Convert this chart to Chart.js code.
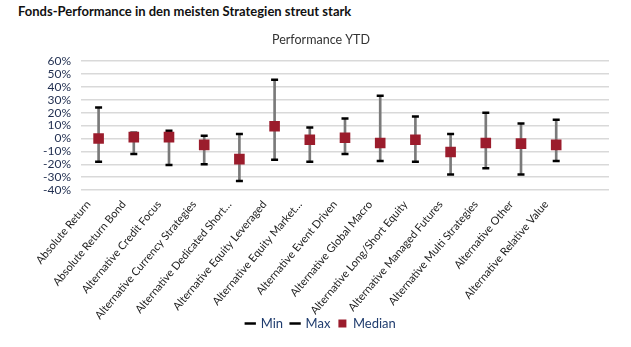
<!DOCTYPE html>
<html lang="de">
<head>
  <meta charset="UTF-8" />
  <title>Fonds-Performance</title>
  <script src="https://cdn.jsdelivr.net/npm/chart.js@4.4.3/dist/chart.umd.min.js"></script>
  <style>
    body {
      margin: 0;
      background: #fff;
      font-family: 'Lato', sans-serif;
    }

    .titel {
      position: absolute;
      left: 18px;
      top: 3px;
      font-size: 13px;
      font-weight: bold;
      color: #111;
    }

    .box {
      position: absolute;
      left: 0;
      top: 24px;
      width: 631px;
      height: 323px;
    }
  </style>
</head>
<body>
  <div class="titel">Fonds-Performance in den meisten Strategien streut stark</div>
  <div class="box"><canvas id="perfChart"></canvas></div>

  <script>
    // Strategien (letzte Kategorie bleibt leer)
    const strategien = [
      'Absolute Return', 'Absolute Return Bond', 'Alternative Credit Focus',
      'Alternative Currency Strategies', 'Alternative Dedicated Short…',
      'Alternative Equity Leveraged', 'Alternative Equity Market…',
      'Alternative Event Driven', 'Alternative Global Macro',
      'Alternative Long/Short Equity', 'Alternative Managed Futures',
      'Alternative Multi Strategies', 'Alternative Other',
      'Alternative Relative Value', ''
    ];

    // Performance YTD in Prozent
    const minWerte    = [-18, -12, -20.5, -20, -33, -16.5, -18, -12, -17.5, -18, -28, -23, -28, -17.5, null];
    const maxWerte    = [24, 4.5, 6, 2, 3.5, 45.5, 8.5, 15.5, 33, 17, 3.5, 20, 11.5, 14.5, null];
    const medianWerte = [0, 1, 1, -5, -16, 9.5, -1, 0.5, -3.5, -1, -10.5, -3.5, -4, -5, null];

    const yTicks = [60, 50, 40, 30, 20, 10, 0, -10, -20, -30, -40];

    const spannen = minWerte.map((v, i) => v === null ? null : [v, maxWerte[i]]);

    const UEBERHANG = 13;

    // Achsenbeschriftungen dürfen etwas in den Bereich der Legende ragen
    const labelRaum = {
      id: 'labelRaum',
      afterLayout(chart) {
        chart.scales.x.bottom += UEBERHANG;
      }
    };

    new Chart(document.getElementById('perfChart'), {
      data: {
        labels: strategien,
        datasets: [
          {
            type: 'line',
            label: 'Median',
            data: medianWerte,
            showLine: false,
            pointStyle: 'rect',
            pointRadius: 7.5,
            pointHoverRadius: 7.5,
            backgroundColor: '#9b1c2c',
            borderColor: '#9b1c2c',
            borderWidth: 0,
            order: 0
          },
          {
            type: 'line',
            label: 'Min',
            data: minWerte,
            showLine: false,
            pointStyle: 'line',
            pointRadius: 3.5,
            borderColor: '#000',
            borderWidth: 2.5,
            order: 1
          },
          {
            type: 'line',
            label: 'Max',
            data: maxWerte,
            showLine: false,
            pointStyle: 'line',
            pointRadius: 3.5,
            borderColor: '#000',
            borderWidth: 2.5,
            order: 1
          },
          {
            type: 'bar',
            label: 'Spanne',
            data: spannen,
            backgroundColor: '#7a7a7a',
            barThickness: 2,
            order: 2
          }
        ]
      },
      options: {
        responsive: true,
        maintainAspectRatio: false,
        animation: false,
        layout: { padding: { left: 33, right: 22, top: 0, bottom: 7 } },
        scales: {
          x: {
            type: 'category',
            offset: true,
            grid: { display: false },
            border: { display: false },
            afterFit: axis => { axis.height -= UEBERHANG; },
            ticks: {
              minRotation: 50,
              maxRotation: 50,
              autoSkip: false,
              color: '#222',
              font: { family: 'Lato', size: 11 },
              padding: 0,
              labelOffset: -10
            }
          },
          y: {
            min: -40,
            max: 60,
            afterBuildTicks: axis => {
              axis.ticks = yTicks.map(v => ({ value: v }));
            },
            border: { display: false },
            grid: { color: '#d9d9d9', lineWidth: 1.5, drawTicks: false },
            ticks: {
              autoSkip: false,
              color: '#1f2d4f',
              font: { family: 'Lato', size: 12 },
              padding: 10,
              callback: v => v + '%'
            }
          }
        },
        plugins: {
          title: {
            display: true,
            text: 'Performance YTD',
            color: '#333',
            font: { family: 'Lato', size: 12.5, weight: 'normal' },
            padding: { top: 8, bottom: 14 }
          },
          legend: {
            position: 'bottom',
            labels: {
              usePointStyle: true,
              color: '#1f3c6e',
              font: { family: 'Lato', size: 13 },
              boxWidth: 8,
              boxHeight: 8,
              padding: 8,
              filter: item => item.text !== 'Spanne',
              sort: (a, b) => ['Min', 'Max', 'Median'].indexOf(a.text) - ['Min', 'Max', 'Median'].indexOf(b.text)
            }
          },
          tooltip: { enabled: false }
        }
      },
      plugins: [labelRaum]
    });
  </script>
</body>
</html>
